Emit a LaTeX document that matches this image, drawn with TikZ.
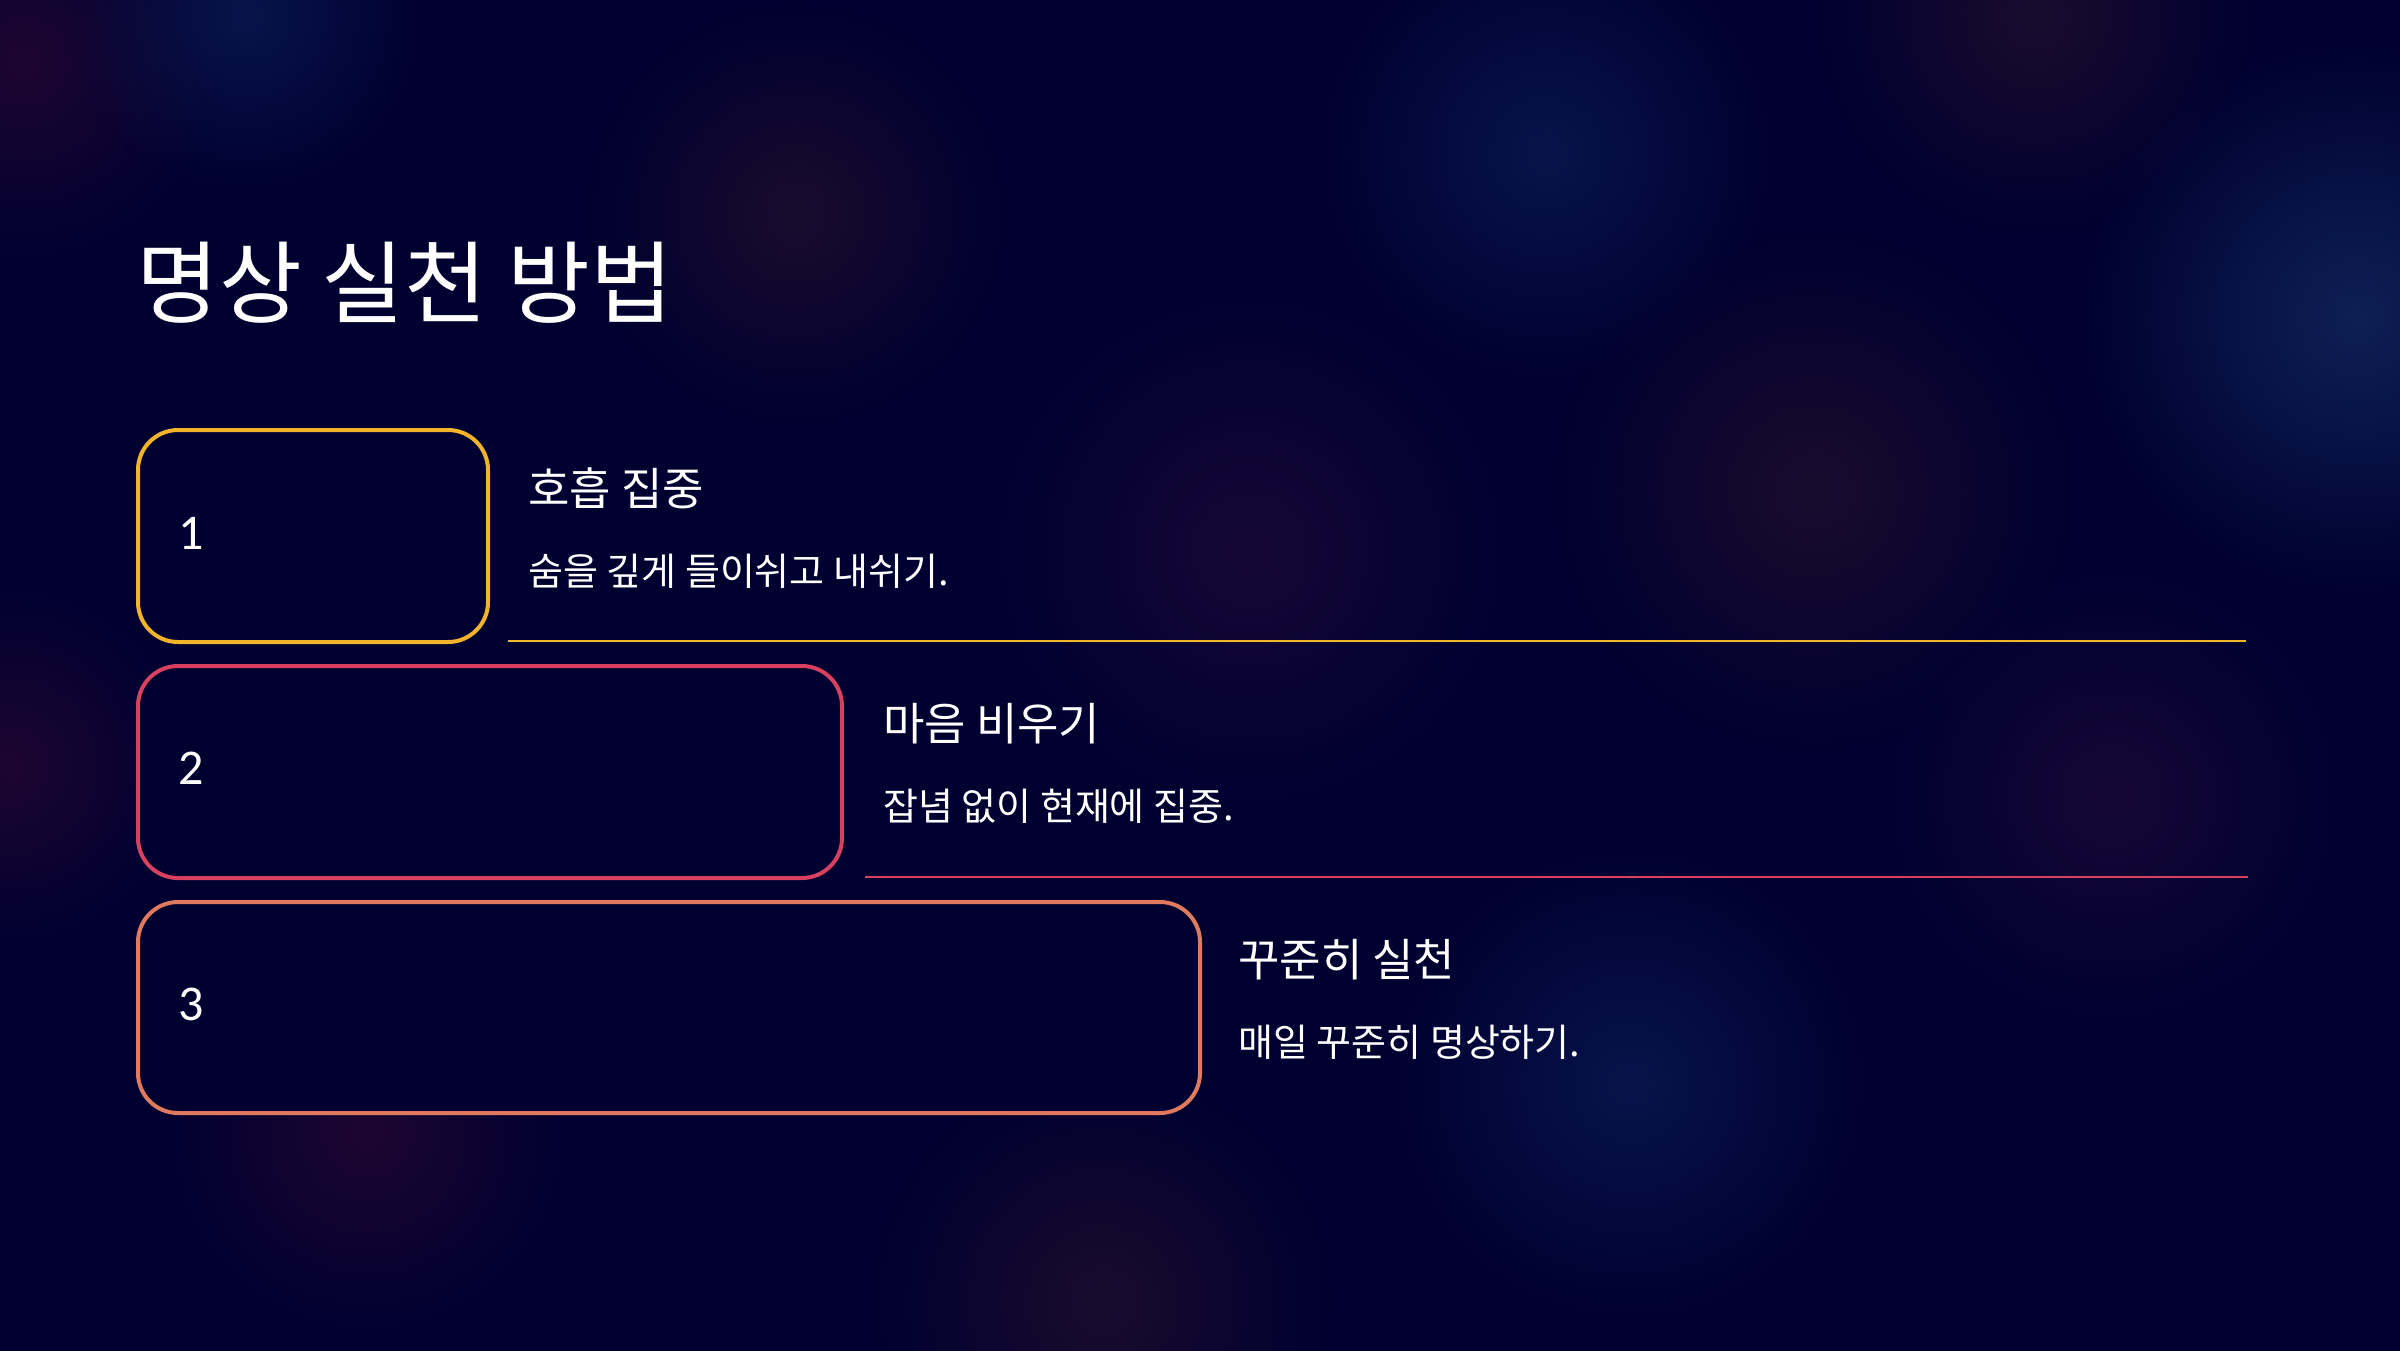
\documentclass[tikz,border=0pt]{standalone}
\usepackage{fontspec}
\usetikzlibrary{fadings}
\setmainfont{Carlito}
\newfontfamily\kr{Noto Sans CJK KR}
\definecolor{bg}{RGB}{0,0,48}
\definecolor{cone}{RGB}{242,180,42}
\definecolor{ctwo}{RGB}{216,64,96}
\definecolor{cthree}{RGB}{224,122,94}
\definecolor{gpurple}{RGB}{22,8,54}
\definecolor{gblue}{RGB}{14,32,84}
\definecolor{gdblue}{RGB}{8,20,74}
\definecolor{gbrown}{RGB}{26,12,46}
\definecolor{gred}{RGB}{30,6,48}
\tikzfading[name=glowfade, inner color=transparent!0, outer color=transparent!100]
\begin{document}
\begin{tikzpicture}[x=1pt,y=-1pt,
  glow/.style={path fading=glowfade},
  stepbox/.style={draw, line width=4pt, rounded corners=40pt, fill=bg, anchor=north west, inner sep=0pt},
  num/.style={text=white, font=\fontsize{50}{56}\selectfont, anchor=west, inner sep=0pt},
  ttl/.style={text=white, font=\kr\fontsize{45}{52}\selectfont, anchor=west, inner sep=0pt},
  desc/.style={text=white, font=\kr\fontsize{38}{44}\selectfont, anchor=west, inner sep=0pt},
  rule/.style={line width=2pt}]
\useasboundingbox (0,0) rectangle (2400,1350);
\fill[bg] (-10,-10) rectangle (2410,1360);
% background glows
\begin{scope}
\clip (-10,-10) rectangle (2410,1360);
\fill[glow, gpurple] (1250,550) circle (260);
\fill[glow, gblue] (2357,317) circle (280);
\fill[glow, gdblue] (1630,1083) circle (240);
\fill[glow, gbrown] (1814,490) circle (260);
\fill[glow, gdblue] (1546,153) circle (230);
\fill[glow, gbrown] (796,214) circle (210);
\fill[glow, gpurple] (2112,796) circle (230);
\fill[glow, gbrown] (1102,1301) circle (230);
\fill[glow, gred] (367,1133) circle (200);
\fill[glow, gred] (23,61) circle (200);
\fill[glow, gred] (8,765) circle (180);
\fill[glow, gbrown] (2036,15) circle (220);
\fill[glow, gdblue] (245,15) circle (180);
\end{scope}
% title
\node[text=white, font=\kr\fontsize{90}{100}\selectfont, anchor=west, inner sep=0pt] (title) at (136,283) {명상 실천 방법};
% boxes
\node[stepbox, draw=cone, minimum width=350pt, minimum height=212pt] (b1) at (136,428) {};
\node[stepbox, draw=ctwo, minimum width=704pt, minimum height=212pt] (b2) at (136,664) {};
\node[stepbox, draw=cthree, minimum width=1062pt, minimum height=211pt] (b3) at (136,900) {};
% numbers
\node[num] (n1) at (178,533) {1};
\node[num] (n2) at (178,768) {2};
\node[num] (n3) at (178,1004) {3};
% texts
\node[ttl] (t1) at (528,488) {호흡 집중};
\node[desc] (d1) at (528,571) {숨을 깊게 들이쉬고 내쉬기.};
\node[ttl] (t2) at (883,724) {마음 비우기};
\node[desc] (d2) at (883,806) {잡념 없이 현재에 집중.};
\node[ttl] (t3) at (1238,960) {꾸준히 실천};
\node[desc] (d3) at (1238,1042) {매일 꾸준히 명상하기.};
% rules
\coordinate (r1s) at (508,641);
\coordinate (r1e) at (2246,641);
\coordinate (r2s) at (865,877);
\coordinate (r2e) at (2248,877);
\draw[rule, cone] (r1s) -- (r1e);
\draw[rule, ctwo] (r2s) -- (r2e);
\end{tikzpicture}
\end{document}
